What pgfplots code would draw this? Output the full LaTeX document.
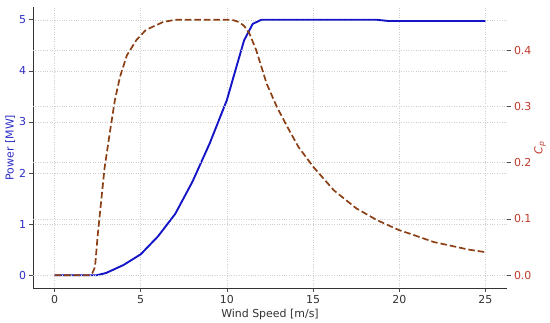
\documentclass[border=0pt]{standalone}
\usepackage{pgfplots}
\pgfplotsset{compat=1.18}
\usepackage{fontspec}
\setmainfont{DejaVu Sans}
\definecolor{pblue}{HTML}{1515C8}
\definecolor{lblue}{HTML}{2E2EC8}
\definecolor{cpbrown}{HTML}{8B3F15}
\definecolor{rtick}{HTML}{C0392B}
\definecolor{txtgray}{HTML}{333333}

\pgfplotstableread{
x p
0 0
1 0
2 0
2.45 0
3 0.045
4 0.2
5 0.41
6 0.76
7 1.2
8 1.83
9 2.58
10 3.43
10.5 4.02
11 4.6
11.5 4.92
12 5.0
18.7 5.0
19.4 4.975
25 4.975
}\powertab

\pgfplotstableread{
x cp
0 0
1 0
2.0 0
2.2 0.004
2.35 0.015
2.5 0.07
2.7 0.13
2.9 0.19
3.2 0.252
3.5 0.311
3.8 0.353
4.2 0.391
4.75 0.418
5.3 0.436
6.3 0.450
7.0 0.454
10.3 0.454
10.7 0.450
11.0 0.443
11.3 0.430
11.7 0.400
12.3 0.341
12.9 0.299
13.5 0.264
14.15 0.228
15.0 0.193
16.2 0.151
17.5 0.119
18.7 0.098
20.0 0.080
20.6 0.074
22.0 0.059
24.0 0.0457
25.0 0.041
}\cptab

\begin{document}
\begin{tikzpicture}
\pgfplotsset{
  common/.style={
    scale only axis, width=474bp, height=281bp,
    xmin=-1.25, xmax=26.25,
    tick align=outside, major tick length=3.5bp,
    tick style={black!70, line width=0.6pt},
    grid style={dotted, gray!38, line width=0.5pt},
    font=\fontsize{11}{13}\selectfont,
    tick label style={font=\fontsize{11}{13}\selectfont},
    /pgf/number format/assume math mode=true,
  }
}
\begin{axis}[common, name=ax1,
  ymin=-0.25, ymax=5.25,
  axis x line*=bottom, axis y line*=left,
  axis line style={-, draw=txtgray, line width=0.8pt},
  xtick={0,5,10,15,20,25}, ytick={0,1,2,3,4,5},
  xmajorgrids, ymajorgrids,
  xlabel={Wind Speed [m/s]}, ylabel={Power [MW]},
  xlabel style={color=txtgray, yshift=1bp},
  ylabel style={color=lblue, yshift=-3bp},
  xticklabel style={color=txtgray},
  yticklabel style={color=lblue},
]
\addplot[pblue, line width=1.9pt, line join=round] table[x=x, y=p] {\powertab};
\end{axis}
\begin{axis}[common,
  ymin=-0.0227, ymax=0.4767,
  axis x line=none, axis y line*=right,
  axis line style={draw=none},
  ytick={0,0.1,0.2,0.3,0.4},
  yticklabel style={color=rtick, /pgf/number format/fixed, /pgf/number format/fixed zerofill, /pgf/number format/precision=1},
  ymajorgrids,
  ylabel={\textit{C}\textsubscript{\textit{p}}},
  ylabel style={color=rtick, yshift=4bp},
]
\addplot[cpbrown, line width=1.7pt, dash pattern=on 6.5bp off 3bp, line join=round] table[x=x, y=cp] {\cptab};
\end{axis}
\pgfresetboundingbox
\path[use as bounding box] ([xshift=-33bp,yshift=-35bp]ax1.south west) rectangle ([xshift=43bp,yshift=7bp]ax1.north east);
\end{tikzpicture}
\end{document}
